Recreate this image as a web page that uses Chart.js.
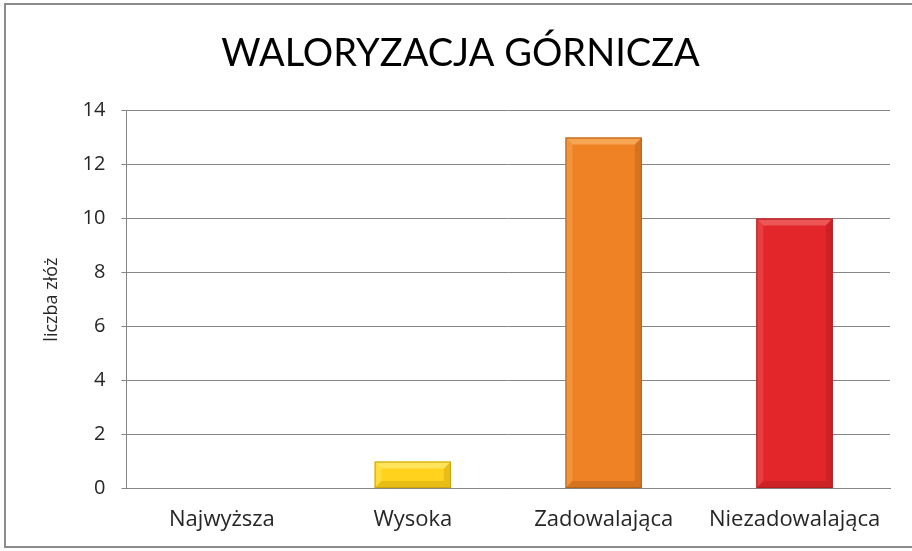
<!DOCTYPE html>
<html>
<head>
<meta charset="utf-8">
<script src="https://cdn.jsdelivr.net/npm/chart.js@4.4.1/dist/chart.umd.min.js"></script>
<style>
  html, body { margin: 0; padding: 0; background: #fff; overflow: hidden; }
  #frame {
    position: absolute; left: 4px; top: 3px;
    width: 920px; height: 545px;
    border: 2px solid #8c8c8c; box-sizing: border-box;
  }
  #wrap { position: absolute; left: 0; top: 0; width: 912px; height: 551px; }
</style>
</head>
<body>
<div id="frame"></div>
<div id="wrap"><canvas id="myChart" width="912" height="551"></canvas></div>
<script>
const categories = ['Najwyższa', 'Wysoka', 'Zadowalająca', 'Niezadowalająca'];
const counts = [0, 1, 13, 10];
const yTicks = [0, 2, 4, 6, 8, 10, 12, 14];

const fills  = ['#ffd21d', '#ffd21d', '#ee8224', '#e3262a'];
const lights = ['#ffe45c', '#ffe45c', '#f6a552', '#ec5656'];
const darks  = ['#c9a410', '#c9a410', '#b9621a', '#b01d20'];

// bevelled edges on each bar, like the office-style 3D bars
const bevel = {
  id: 'bevel',
  afterDatasetsDraw(chart) {
    const ctx = chart.ctx;
    chart.getDatasetMeta(0).data.forEach((bar, i) => {
      const h = bar.base - bar.y;
      if (h < 2) return;
      const l = bar.x - bar.width / 2, r = bar.x + bar.width / 2;
      const t = bar.y, b = bar.base;
      const e = Math.min(7, h / 2);
      ctx.save();
      // top
      ctx.fillStyle = lights[i];
      ctx.beginPath();
      ctx.moveTo(l, t); ctx.lineTo(r, t); ctx.lineTo(r - e, t + e); ctx.lineTo(l + e, t + e);
      ctx.closePath(); ctx.fill();
      // left
      ctx.globalAlpha = 0.5;
      ctx.beginPath();
      ctx.moveTo(l, t); ctx.lineTo(l + e, t + e); ctx.lineTo(l + e, b - e); ctx.lineTo(l, b);
      ctx.closePath(); ctx.fill();
      // right
      ctx.fillStyle = darks[i];
      ctx.globalAlpha = 0.45;
      ctx.beginPath();
      ctx.moveTo(r, t); ctx.lineTo(r - e, t + e); ctx.lineTo(r - e, b - e); ctx.lineTo(r, b);
      ctx.closePath(); ctx.fill();
      // bottom
      ctx.beginPath();
      ctx.moveTo(l, b); ctx.lineTo(l + e, b - e); ctx.lineTo(r - e, b - e); ctx.lineTo(r, b);
      ctx.closePath(); ctx.fill();
      ctx.globalAlpha = 1;
      ctx.strokeStyle = darks[i];
      ctx.lineWidth = 1;
      ctx.strokeRect(l + 0.5, t + 0.5, bar.width - 1, h - 1);
      ctx.restore();
    });
  }
};

Chart.defaults.font.family = '"Open Sans", Lato, sans-serif';
Chart.defaults.color = '#262626';

new Chart(document.getElementById('myChart').getContext('2d'), {
  type: 'bar',
  data: {
    labels: categories,
    datasets: [{
      label: 'liczba złóż',
      data: counts,
      backgroundColor: fills,
      borderWidth: 0,
      barPercentage: 0.4,
      categoryPercentage: 1.0
    }]
  },
  options: {
    responsive: false,
    animation: false,
    layout: { padding: { left: 31, right: 22, top: 31, bottom: 0 } },
    plugins: {
      legend: { display: false },
      tooltip: { enabled: false },
      title: {
        display: true,
        text: 'WALORYZACJA GÓRNICZA',
        color: '#000',
        font: { family: 'Lato, sans-serif', size: 38, weight: 'normal' },
        padding: { top: 0, bottom: 34 }
      }
    },
    scales: {
      x: {
        grid: { display: false, drawTicks: false },
        border: { color: '#868686', width: 1 },
        ticks: { font: { size: 22 }, padding: 18 }
      },
      y: {
        min: 0, max: 14,
        afterBuildTicks(axis) { axis.ticks = yTicks.map(v => ({ value: v })); },
        grid: { color: '#868686', tickLength: 5, tickColor: '#868686' },
        border: { color: '#868686', width: 1 },
        ticks: { font: { size: 20 }, padding: 16 },
        title: {
          display: true,
          text: 'liczba złóż',
          font: { size: 18 },
          padding: { top: 10, bottom: 4 }
        }
      }
    }
  },
  plugins: [bevel]
});
</script>
</body>
</html>
